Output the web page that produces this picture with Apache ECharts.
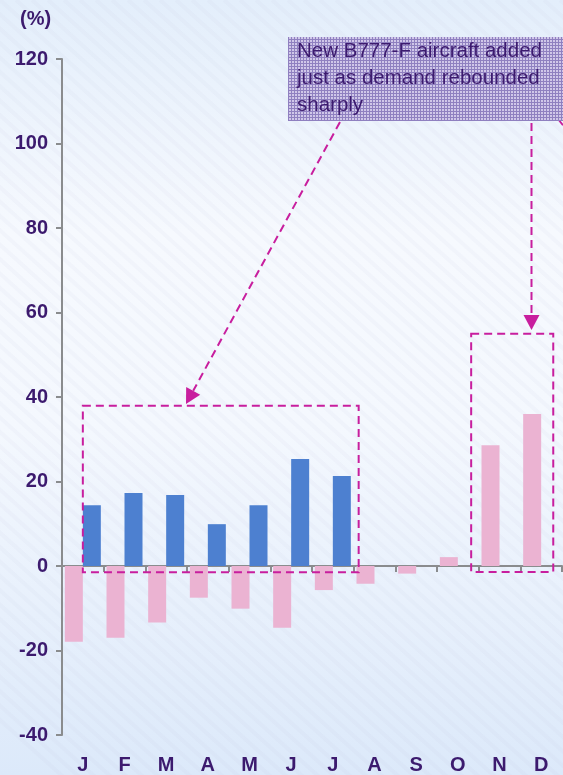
<!DOCTYPE html>
<html>
<head>
<meta charset="utf-8">
<script src="https://cdn.jsdelivr.net/npm/echarts/dist/echarts.min.js"></script>
<style>
  html, body { margin: 0; padding: 0; }
  #chart { width: 563px; height: 775px; }
</style>
</head>
<body>
<div id="chart"></div>
<script>
// Monthly cargo growth, year on year (%)
const months = ['J', 'F', 'M', 'A', 'M', 'J', 'J', 'A', 'S', 'O', 'N', 'D'];
const previousYear = [-17.9, -17.0, -13.4, -7.5, -10.1, -14.6, -5.7, -4.2, -1.8, 2.1, 28.6, 36.0];
const currentYear = [14.4, 17.3, 16.8, 9.9, 14.4, 25.3, 21.3, null, null, null, null, null];
const yMin = -40, yMax = 120, yStep = 20;
const noteLines = ['New B777-F aircraft added', 'just as demand rebounded', 'sharply'];

const TEXT = '#3c1a6e';
const AXIS = '#8a8c8e';
const ACCENT = '#c81e9e';
const FONT = '"Liberation Sans", Arial, sans-serif';

const chart = echarts.init(document.getElementById('chart'), null, { renderer: 'canvas' });

// small cross-hatched tile for the note box
function hatchTile() {
  const c = document.createElement('canvas');
  c.width = 3; c.height = 3;
  const g = c.getContext('2d');
  g.fillStyle = '#d0c7e9';
  g.fillRect(0, 0, 3, 3);
  g.fillStyle = '#8f80c0';
  g.fillRect(0, 0, 3, 1);
  g.fillRect(0, 0, 1, 3);
  return c;
}

chart.setOption({
  animation: false,
  backgroundColor: {
    type: 'linear', x: 0, y: 0, x2: 0, y2: 1,
    colorStops: [
      { offset: 0, color: '#e3eefb' },
      { offset: 0.3, color: '#f6f9fe' },
      { offset: 0.55, color: '#f4f8fe' },
      { offset: 1, color: '#dce9fa' }
    ]
  },
  grid: { left: 62, right: 1, top: 59, bottom: 40 },
  xAxis: [
    {
      type: 'category',
      data: months,
      axisLine: { onZero: true, lineStyle: { color: AXIS, width: 2 } },
      axisTick: { show: true, length: 6, lineStyle: { color: AXIS, width: 2 } },
      axisLabel: { show: false }
    },
    {
      type: 'category',
      data: months,
      position: 'bottom',
      axisLine: { show: false, onZero: false },
      axisTick: { show: false },
      axisLabel: { color: TEXT, fontFamily: FONT, fontWeight: 'bold', fontSize: 20, margin: 20 }
    }
  ],
  yAxis: {
    type: 'value',
    min: yMin, max: yMax, interval: yStep,
    axisLine: { show: true, lineStyle: { color: AXIS, width: 2 } },
    axisTick: { show: true, length: 6, lineStyle: { color: AXIS, width: 2 } },
    splitLine: { show: false },
    axisLabel: { color: TEXT, fontFamily: FONT, fontWeight: 'bold', fontSize: 20, margin: 14 }
  },
  series: [
    {
      name: 'Previous year', type: 'bar', xAxisIndex: 0,
      data: previousYear, barWidth: 18, barGap: '0%',
      itemStyle: { color: '#ebb3d2' }
    },
    {
      name: 'Current year', type: 'bar', xAxisIndex: 0,
      data: currentYear, barWidth: 18, barGap: '0%',
      itemStyle: { color: '#4d80d0' }
    }
  ]
});

// annotation layer: note box, dashed frames and arrows
const catW = chart.convertToPixel({ xAxisIndex: 0 }, 1) - chart.convertToPixel({ xAxisIndex: 0 }, 0);
const cx = i => chart.convertToPixel({ xAxisIndex: 0 }, i);
const py = v => chart.convertToPixel({ yAxisIndex: 0 }, v);

function dashedRect(x1, y1, x2, y2) {
  return {
    type: 'rect', z: 20,
    shape: { x: x1, y: y1, width: x2 - x1, height: y2 - y1 },
    style: { fill: 'none', stroke: ACCENT, lineWidth: 2, lineDash: [8, 5] }
  };
}

function arrow(x1, y1, x2, y2) {
  const dx = x2 - x1, dy = y2 - y1;
  const len = Math.sqrt(dx * dx + dy * dy);
  const ux = dx / len, uy = dy / len;
  const headL = 15, headW = 8;
  const bx = x2 - ux * headL, by = y2 - uy * headL;
  return [
    {
      type: 'line', z: 20,
      shape: { x1: x1, y1: y1, x2: bx, y2: by },
      style: { stroke: ACCENT, lineWidth: 2, lineDash: [8, 5] }
    },
    {
      type: 'polygon', z: 20,
      shape: { points: [[x2, y2], [bx - uy * headW, by + ux * headW], [bx + uy * headW, by - ux * headW]] },
      style: { fill: ACCENT }
    }
  ];
}

// faint diagonal sheen across the backdrop
const streaks = [];
for (let s = -800; s < 580; s += 16) {
  streaks.push({
    type: 'line', z: -10, silent: true,
    shape: { x1: s, y1: 0, x2: s + 900, y2: 810 },
    style: { stroke: 'rgba(185,195,215,0.08)', lineWidth: 4 }
  });
}

const left1 = cx(0);
const right1 = cx(6) + 0.62 * catW;
const left2 = cx(10) - 0.68 * catW;
const right2 = cx(11) + 0.29 * catW;

const graphics = [].concat(
  streaks,
  [
    {
      type: 'text', z: 30, left: 20, top: 9,
      style: { text: '(%)', fill: TEXT, font: 'bold 20px ' + FONT }
    },
    {
      type: 'rect', z: 25,
      shape: { x: 288, y: 37, width: 290, height: 84 },
      style: { fill: { image: hatchTile(), repeat: 'repeat' } }
    },
    {
      type: 'text', z: 30, x: 297, y: 38,
      style: {
        text: noteLines.join('\n'), fill: TEXT,
        font: '20.5px ' + FONT, lineHeight: 27
      }
    },
    dashedRect(left1, py(37.9), right1, py(-1.5)),
    dashedRect(left2, py(55), right2, py(-1.4))
  ],
  arrow(340, 122, 186, 404),
  arrow(531.5, 123, 531.5, 330),
  [{
    type: 'line', z: 20,
    shape: { x1: 558, y1: 119, x2: 570, y2: 134 },
    style: { stroke: ACCENT, lineWidth: 2, lineDash: [8, 5] }
  }]
);

chart.setOption({ graphic: graphics });
</script>
</body>
</html>
